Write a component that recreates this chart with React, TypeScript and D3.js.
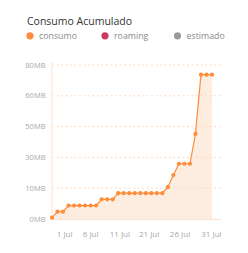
import React from "react";
import * as d3 from "d3";

const values: number[] = [
  0.7, 3.8, 3.8, 7.0, 7.0, 7.0, 7.0, 7.0, 7.0, 10.2,
  10.2, 10.2, 13.4, 13.4, 13.4, 13.4, 13.4, 13.4, 13.4, 13.4,
  13.4, 16.6, 22.8, 28.7, 28.7, 28.7, 44.2, 75, 75, 75,
];
const yTickValues: number[] = [0, 16, 32, 48, 64, 80];
const yTickLabels: string[] = ["0MB", "10MB", "30MB", "50MB", "60MB", "80MB"];
const xTickIndex: number[] = [2.3, 7.0, 12.3, 17.6, 23.2, 28.9];
const xTickLabels: string[] = ["1 Jul", "6 Jul", "11 Jul", "21 Jul", "26 Jul", "31 Jul"];
const legendLabels: string[] = ["consumo", "roaming", "estimado"];
const legendColors: string[] = ["#ff8c3a", "#c83a5c", "#9a9a9a"];

const W = 248;
const H = 253;
const left = 52;
const right = 221;
const top = 65;
const bottom = 219;

export default function App() {
  const x = d3.scaleLinear().domain([0, values.length - 1]).range([left, 212]);
  const y = d3.scaleLinear().domain([0, 80]).range([bottom, top]);
  const line = d3
    .line<number>()
    .x((_, i) => x(i))
    .y((d) => y(d));
  const area = d3
    .area<number>()
    .x((_, i) => x(i))
    .y0(y(0))
    .y1((d) => y(d));
  const font = "'Open Sans', sans-serif";
  const legendX = [30, 105, 177.5];
  return (
    <svg
      width={W}
      height={H}
      style={{ position: "absolute", left: 0, top: 0 }}
      fontFamily={font}
    >
      <rect width={W} height={H} fill="#fff" />
      <text x={27} y={24.5} fontSize={10.5} fill="#333">
        Consumo Acumulado
      </text>
      {legendLabels.map((l, i) => (
        <g key={l}>
          <circle cx={legendX[i]} cy={35.8} r={3.6} fill={legendColors[i]} />
          <text x={legendX[i] + 9} y={39} fontSize={8.8} fill="#8a8a8a">
            {l}
          </text>
        </g>
      ))}
      <path d={area(values) || ""} fill="#fdeadc" opacity={0.85} />
      {yTickValues.map((v, i) => (
        <g key={v}>
          {i > 0 && (
            <line
              x1={left}
              x2={right}
              y1={y(v)}
              y2={y(v)}
              stroke="#fcd9bf"
              strokeWidth={1}
              strokeDasharray="2,2.5"
            />
          )}
          <text
            x={45.5}
            y={y(v)}
            dy="0.35em"
            textAnchor="end"
            fontSize={7.5}
            fill="#a8a8a8"
          >
            {yTickLabels[i]}
          </text>
        </g>
      ))}
      <line x1={left} x2={left} y1={62} y2={bottom} stroke="#fde6d6" strokeWidth={1.2} />
      <line x1={left} x2={right} y1={bottom + 0.5} y2={bottom + 0.5} stroke="#fde0cc" strokeWidth={1} />
      {xTickIndex.map((t, i) => (
        <text
          key={i}
          x={x(t)}
          y={236.7}
          textAnchor="middle"
          fontSize={8}
          fill="#a8a8a8"
        >
          {xTickLabels[i]}
        </text>
      ))}
      <path d={line(values) || ""} fill="none" stroke="#ff8c3a" strokeWidth={1.2} />
      {values.map((v, i) => (
        <circle key={i} cx={x(i)} cy={y(v)} r={2.1} fill="#ff8c3a" />
      ))}
    </svg>
  );
}
